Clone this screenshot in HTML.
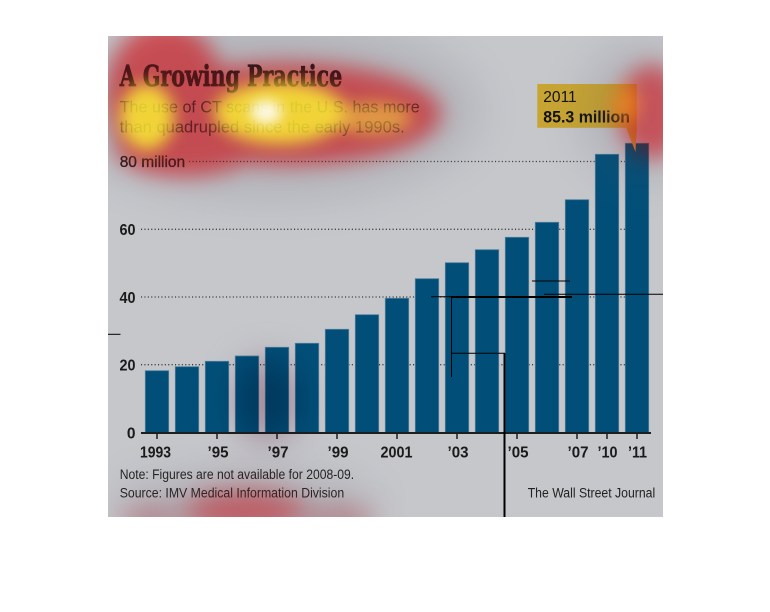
<!DOCTYPE html>
<html><head><meta charset="utf-8"><style>html,body{margin:0;padding:0;background:#fff}svg{display:block}.m{mix-blend-mode:multiply}</style></head>
<body>
<svg width="770" height="612" viewBox="0 0 770 612" xmlns="http://www.w3.org/2000/svg">
<defs>
<filter id="b22" x="-100%" y="-100%" width="300%" height="300%"><feGaussianBlur stdDeviation="22"/></filter>
<filter id="b16" x="-100%" y="-100%" width="300%" height="300%"><feGaussianBlur stdDeviation="16"/></filter>
<filter id="b14" x="-100%" y="-100%" width="300%" height="300%"><feGaussianBlur stdDeviation="14"/></filter>
<filter id="b11" x="-100%" y="-100%" width="300%" height="300%"><feGaussianBlur stdDeviation="11"/></filter>
<filter id="b8" x="-100%" y="-100%" width="300%" height="300%"><feGaussianBlur stdDeviation="8"/></filter>
<filter id="b6" x="-100%" y="-100%" width="300%" height="300%"><feGaussianBlur stdDeviation="6"/></filter>
</defs>
<rect width="770" height="612" fill="#fff"/>
<rect x="108" y="36" width="555" height="481" fill="#c5c7cb"/>

<!-- gridlines -->
<g stroke="#3a3a3a" stroke-width="1.3" stroke-dasharray="1.1 2.3">
<line x1="189" y1="161.5" x2="650" y2="161.5"/>
<line x1="141" y1="229.3" x2="650" y2="229.3"/>
<line x1="141" y1="297" x2="650" y2="297"/>
<line x1="141" y1="364.7" x2="650" y2="364.7"/>
</g>

<!-- bars -->
<g fill="#014f79" stroke="#4f7f9e" stroke-width="0.8">
<rect x="145.3" y="370.7" width="23.4" height="62"/>
<rect x="175.3" y="366.7" width="23.4" height="66"/>
<rect x="205.3" y="361.3" width="23.4" height="71.4"/>
<rect x="235.3" y="356" width="23.4" height="76.7"/>
<rect x="265.3" y="347.3" width="23.4" height="85.4"/>
<rect x="295.3" y="343.3" width="23.4" height="89.4"/>
<rect x="325.3" y="329.3" width="23.4" height="103.4"/>
<rect x="355.3" y="314.7" width="23.4" height="118"/>
<rect x="385.3" y="298.3" width="23.4" height="134.4"/>
<rect x="415.3" y="278.7" width="23.4" height="154"/>
<rect x="445.3" y="262.7" width="23.4" height="170"/>
<rect x="475.3" y="249.7" width="23.4" height="183"/>
<rect x="505.3" y="237.3" width="23.4" height="195.4"/>
<rect x="535.3" y="222.3" width="23.4" height="210.4"/>
<rect x="565.3" y="199.7" width="23.4" height="233"/>
<rect x="595.3" y="154.3" width="23.4" height="278.4"/>
<rect x="625.3" y="143.3" width="23.4" height="289.4"/>
</g>

<!-- axis -->
<line x1="141" y1="433" x2="651" y2="433" stroke="#1e1e1e" stroke-width="2"/>
<g stroke="#1e1e1e" stroke-width="1.5">
<line x1="157" y1="433" x2="157" y2="439"/>
<line x1="217" y1="433" x2="217" y2="439"/>
<line x1="277" y1="433" x2="277" y2="439"/>
<line x1="337" y1="433" x2="337" y2="439"/>
<line x1="397" y1="433" x2="397" y2="439"/>
<line x1="457" y1="433" x2="457" y2="439"/>
<line x1="517" y1="433" x2="517" y2="439"/>
<line x1="577" y1="433" x2="577" y2="439"/>
<line x1="607" y1="433" x2="607" y2="439"/>
<line x1="637" y1="433" x2="637" y2="439"/>
</g>

<g font-family="Liberation Sans, sans-serif" font-size="15.5" font-weight="bold" fill="#1a1a1a" text-anchor="middle">
<text x="155.5" y="457.5" textLength="31" lengthAdjust="spacingAndGlyphs">1993</text>
<text x="218" y="457.5" textLength="21" lengthAdjust="spacingAndGlyphs">’95</text>
<text x="278" y="457.5" textLength="21" lengthAdjust="spacingAndGlyphs">’97</text>
<text x="338" y="457.5" textLength="21" lengthAdjust="spacingAndGlyphs">’99</text>
<text x="396.5" y="457.5" textLength="32" lengthAdjust="spacingAndGlyphs">2001</text>
<text x="458" y="457.5" textLength="21" lengthAdjust="spacingAndGlyphs">’03</text>
<text x="518" y="457.5" textLength="21" lengthAdjust="spacingAndGlyphs">’05</text>
<text x="578" y="457.5" textLength="21" lengthAdjust="spacingAndGlyphs">’07</text>
<text x="607.5" y="457.5" textLength="20" lengthAdjust="spacingAndGlyphs">’10</text>
<text x="637.5" y="457.5" textLength="19" lengthAdjust="spacingAndGlyphs">’11</text>
</g>

<g font-family="Liberation Sans, sans-serif" font-size="15.5" font-weight="bold" fill="#1a1a1a" text-anchor="end">
<text x="135.5" y="438.5">0</text>
<text x="135.5" y="370.5" textLength="16" lengthAdjust="spacingAndGlyphs">20</text>
<text x="135.5" y="302.8" textLength="16" lengthAdjust="spacingAndGlyphs">40</text>
<text x="135.5" y="235" textLength="16" lengthAdjust="spacingAndGlyphs">60</text>
</g>
<text x="119.7" y="167" font-family="Liberation Sans, sans-serif" font-size="15.5" fill="#1a1a1a" stroke="#1a1a1a" stroke-width="0.35" textLength="65.5" lengthAdjust="spacingAndGlyphs">80 million</text>

<!-- title & subtitle -->
<text x="119.7" y="86" font-family="DejaVu Serif, Liberation Serif, serif" font-weight="bold" font-size="29" fill="#141010" stroke="#141010" stroke-width="0.8" textLength="222.5" lengthAdjust="spacingAndGlyphs">A Growing Practice</text>
<g font-family="Liberation Sans, sans-serif" font-size="16.5" fill="#2e2e2e">
<text x="119.7" y="112.5" textLength="300" lengthAdjust="spacingAndGlyphs">The use of CT scans in the U.S. has more</text>
<text x="119.7" y="132.5" textLength="285" lengthAdjust="spacingAndGlyphs">than quadrupled since the early 1990s.</text>
</g>

<!-- notes -->
<g font-family="Liberation Sans, sans-serif" font-size="13.5" fill="#222">
<text x="119.7" y="479" textLength="234.5" lengthAdjust="spacingAndGlyphs">Note: Figures are not available for 2008-09.</text>
<text x="119.7" y="497.5" textLength="224.5" lengthAdjust="spacingAndGlyphs">Source: IMV Medical Information Division</text>
<text x="527.7" y="497.5" textLength="127.5" lengthAdjust="spacingAndGlyphs">The Wall Street Journal</text>
</g>

<!-- callout -->
<rect x="537.3" y="84" width="99.5" height="43.8" fill="#c8a532"/>
<polygon points="626,127.5 636.8,127.5 635.5,152" fill="#c8a532"/>
<text x="543.3" y="101.8" font-family="Liberation Sans, sans-serif" font-size="16" fill="#111" textLength="33.4" lengthAdjust="spacingAndGlyphs">2011</text>
<text x="543.3" y="122.5" font-family="Liberation Sans, sans-serif" font-size="16.5" font-weight="bold" fill="#111" textLength="86.7" lengthAdjust="spacingAndGlyphs">85.3 million</text>

<!-- heatmap overlay -->
<g filter="url(#b22)" opacity="0.16" fill="#55505e">
  <ellipse cx="270" cy="110" rx="210" ry="90"/>
  <ellipse cx="640" cy="112" rx="60" ry="70"/>
  <ellipse cx="245" cy="505" rx="130" ry="35"/>
</g>
<g class="m" filter="url(#b11)" fill="#ff7278">
  <ellipse cx="165" cy="95" rx="58" ry="72"/>
  <ellipse cx="285" cy="114" rx="155" ry="50"/>
  <ellipse cx="185" cy="148" rx="68" ry="27"/>
</g>
<g class="m" filter="url(#b11)" fill="#ff8088">
  <ellipse cx="652" cy="112" rx="32" ry="46"/>
</g>
<g class="m" filter="url(#b14)" fill="#f09098">
  <ellipse cx="245" cy="512" rx="62" ry="22"/>
  <ellipse cx="150" cy="520" rx="30" ry="10"/>
  <ellipse cx="340" cy="520" rx="35" ry="10"/>
</g>
<g class="m" filter="url(#b16)" fill="#d8b8c8">
  <ellipse cx="268" cy="400" rx="34" ry="42"/>
</g>
<g filter="url(#b11)" opacity="0.22" fill="#ff3a40">
  <ellipse cx="165" cy="95" rx="58" ry="72"/>
  <ellipse cx="285" cy="114" rx="155" ry="50"/>
  <ellipse cx="185" cy="148" rx="68" ry="27"/>
  <ellipse cx="652" cy="112" rx="32" ry="46"/>
  <ellipse cx="245" cy="512" rx="55" ry="18"/>
</g>
<g filter="url(#b8)" opacity="0.5" fill="#ffa020">
  <ellipse cx="626" cy="104" rx="14" ry="18"/>
</g>
<g filter="url(#b8)" opacity="0.78" fill="#fffa30">
  <ellipse cx="147" cy="117" rx="27" ry="33"/>
  <ellipse cx="280" cy="113" rx="66" ry="31"/>
</g>
<g filter="url(#b8)" opacity="0.5" fill="#fbe438">
  <ellipse cx="372" cy="118" rx="40" ry="16"/>
</g>
<g filter="url(#b6)" opacity="0.85" fill="#ffffff">
  <ellipse cx="266" cy="112" rx="16" ry="12"/>
</g>

<!-- white margins cover heatmap spill -->
<g fill="#fff">
<rect x="0" y="0" width="770" height="36"/>
<rect x="0" y="517" width="770" height="95"/>
<rect x="0" y="0" width="108" height="612"/>
<rect x="663" y="0" width="107" height="612"/>
</g>

<!-- annotation lines -->
<g stroke="#000" fill="none">
<line x1="431" y1="296.7" x2="572" y2="296.7" stroke-width="1"/>
<line x1="451" y1="297" x2="572" y2="297" stroke-width="2"/>
<line x1="544" y1="294.3" x2="663" y2="294.3" stroke-width="1"/>
<line x1="532" y1="281" x2="570" y2="281" stroke-width="1"/>
<line x1="451.5" y1="297" x2="451.5" y2="377" stroke-width="1"/>
<line x1="451" y1="353.3" x2="505" y2="353.3" stroke-width="1"/>
<line x1="504.5" y1="353" x2="504.5" y2="517" stroke-width="2"/>
<line x1="108" y1="334.3" x2="120.5" y2="334.3" stroke-width="1"/>
</g>
</svg>
</body></html>
